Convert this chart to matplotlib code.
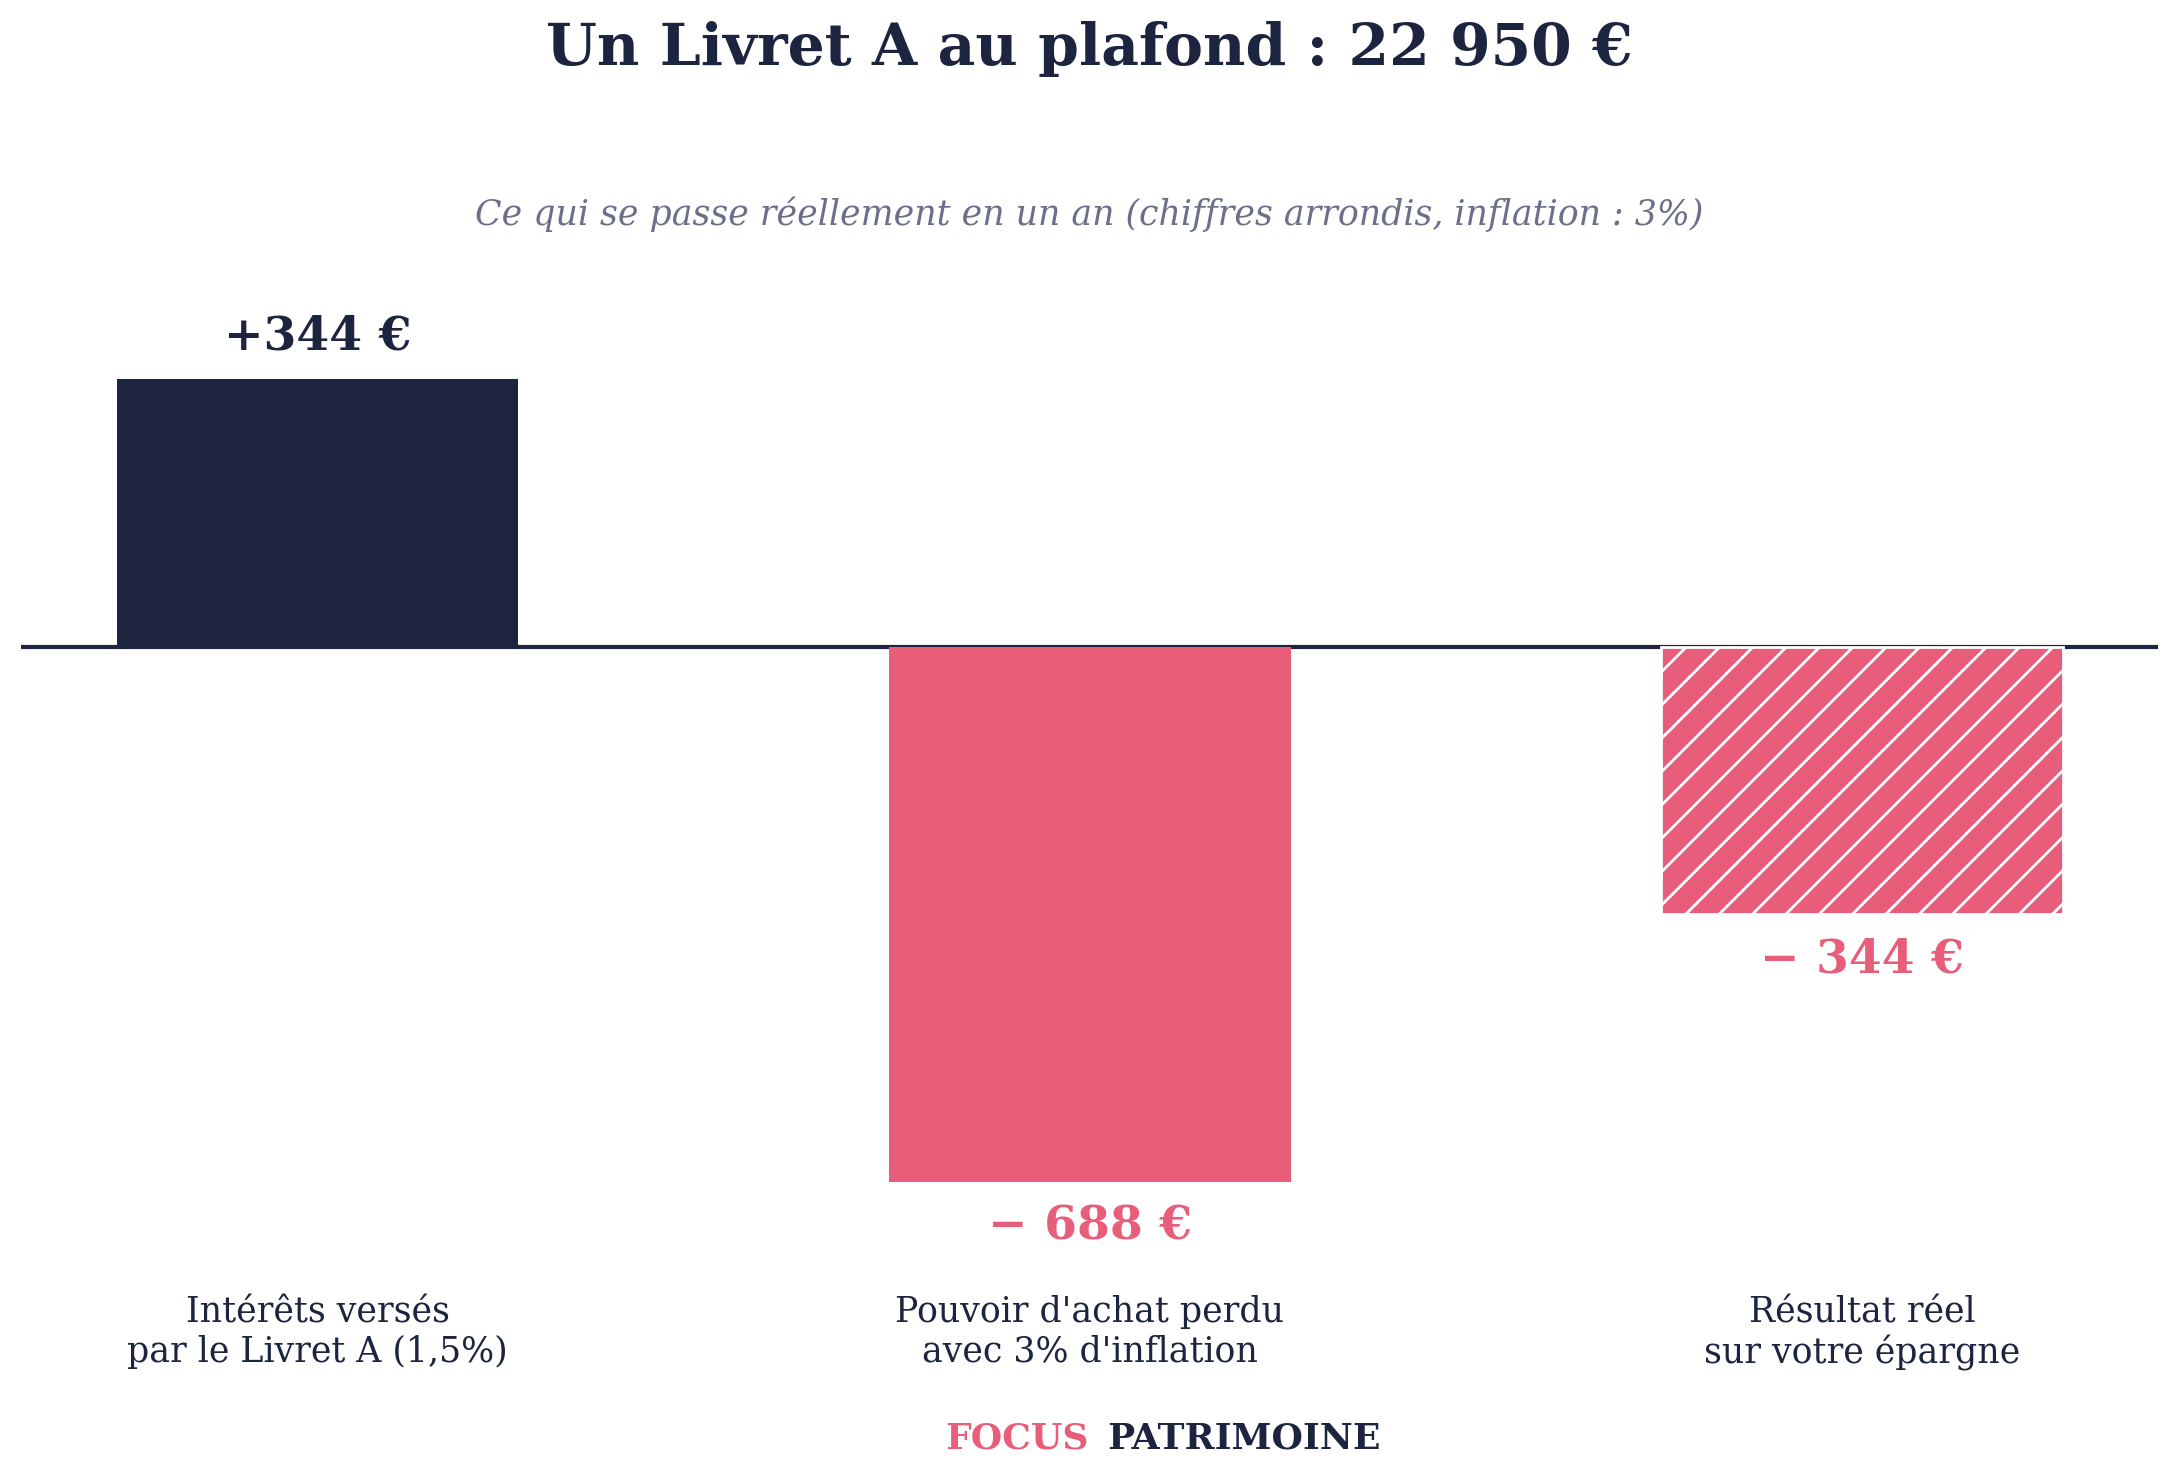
import numpy as np
import matplotlib.pyplot as plt

plt.rcParams['font.family'] = 'DejaVu Serif'

NAVY = '#1d2440'
PINK = '#e85d7a'
GREY = '#6b6f8a'

categories = ["Intérêts versés\npar le Livret A (1,5%)",
              "Pouvoir d'achat perdu\navec 3% d'inflation",
              "Résultat réel\nsur votre épargne"]
values = [344, -688, -344]
value_labels = ["+344 €", "− 688 €", "− 344 €"]

fig = plt.figure(figsize=(10.895, 7.375), dpi=200)
ax = fig.add_axes([0.0096, 0.1398, 0.9808, 0.6592])

x = np.arange(len(values))
colors = [NAVY, PINK, PINK]
bars = ax.bar(x, values, width=0.52, color=colors, zorder=2)
# dernier barre hachurée
bars[2].set_hatch('//')
bars[2].set_edgecolor('white')
bars[2].set_linewidth(1.0)

ax.axhline(0, color=NAVY, lw=1.5, zorder=1)

for i, (v, lab) in enumerate(zip(values, value_labels)):
    col = NAVY if v > 0 else PINK
    ax.annotate(lab, (x[i], v), xytext=(0, 7 if v > 0 else -8),
                textcoords='offset points', ha='center',
                va='bottom' if v > 0 else 'top',
                fontsize=17, fontweight='bold', color=col)

ax.set_xlim(-0.384, 2.383)
ax.set_ylim(-800, 450)
ax.set_xticks(x)
ax.set_xticklabels(categories, fontsize=12.5, color=NAVY)
ax.tick_params(axis='x', length=0, pad=9.5)
ax.set_yticks([])
for s in ax.spines.values():
    s.set_visible(False)

fig.text(0.5, 0.967, "Un Livret A au plafond : 22 950 €", ha='center', va='center',
         fontsize=21, fontweight='bold', color=NAVY)
fig.text(0.5, 0.855, "Ce qui se passe réellement en un an (chiffres arrondis, inflation : 3%)",
         ha='center', va='center', fontsize=12.5, style='italic', color=GREY)

fig.text(0.4994, 0.025, "FOCUS", ha='right', va='center', fontsize=13,
         fontweight='bold', color=PINK)
fig.text(0.508, 0.025, "PATRIMOINE", ha='left', va='center', fontsize=13,
         fontweight='bold', color=NAVY)

fig.savefig('out.png', dpi=200, facecolor='white')
